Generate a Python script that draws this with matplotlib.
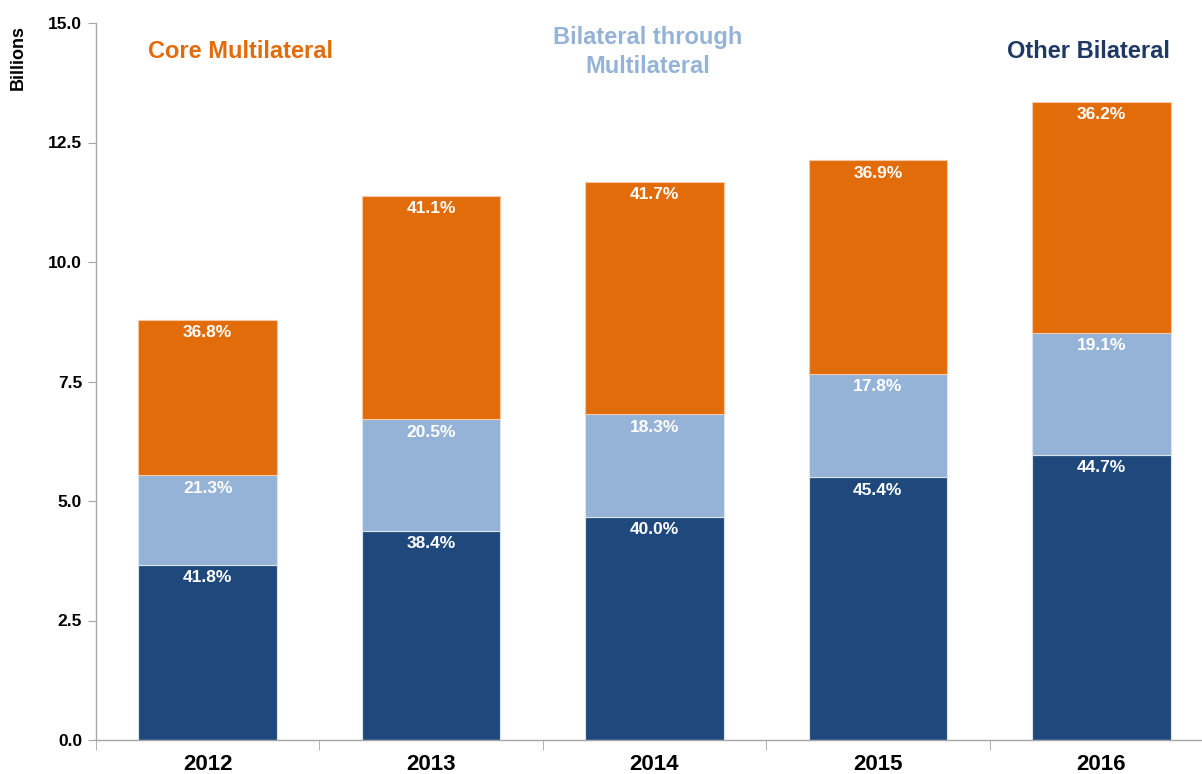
import matplotlib
matplotlib.use("Agg")
import matplotlib.pyplot as plt
import numpy as np

years = ["2012", "2013", "2014", "2015", "2016"]
other_bilateral = [3.67, 4.38, 4.67, 5.50, 5.97]
bilateral_through = [1.87, 2.33, 2.14, 2.16, 2.55]
core_multilateral = [3.25, 4.68, 4.87, 4.47, 4.83]
other_labels = ["41.8%", "38.4%", "40.0%", "45.4%", "44.7%"]
through_labels = ["21.3%", "20.5%", "18.3%", "17.8%", "19.1%"]
core_labels = ["36.8%", "41.1%", "41.7%", "36.9%", "36.2%"]
yticks = [0.0, 2.5, 5.0, 7.5, 10.0, 12.5, 15.0]

plt.rcParams['font.family'] = ['Liberation Sans', 'DejaVu Sans']
plt.rcParams['font.weight'] = 'bold'

c_dark = "#1F497D"
c_light = "#95B3D7"
c_orange = "#E36C0A"
c_axis = "#A6A6A6"

fig = plt.figure(figsize=(12.02, 7.74), dpi=100)
ax = fig.add_axes([96/1202, 1-740/774, (1213-96)/1202, (740-23)/774])

x = np.arange(len(years))
w = 0.62
b1 = np.array(other_bilateral)
b2 = b1 + np.array(bilateral_through)
b3 = b2 + np.array(core_multilateral)

ax.bar(x, other_bilateral, w, color=c_dark, edgecolor="#DCE3EC", linewidth=0.8)
ax.bar(x, bilateral_through, w, bottom=b1, color=c_light, edgecolor="#DCE3EC", linewidth=0.8)
ax.bar(x, core_multilateral, w, bottom=b2, color=c_orange, edgecolor="#F5C9A8", linewidth=0.8)

for tops, labs in ((b1, other_labels), (b2, through_labels), (b3, core_labels)):
    for xi, t, lab in zip(x, tops, labs):
        ax.annotate(lab, (xi, t), xytext=(0, -4), textcoords="offset points",
                    ha="center", va="top", color="white", fontsize=12.5, fontweight="bold")

ax.set_xlim(-0.5, len(years) - 0.5)
ax.set_ylim(0, 15)
ax.set_yticks(yticks)
ax.set_yticklabels([f"{v:.1f}" for v in yticks], fontsize=12.5, fontweight="bold")
ax.set_xticks(x)
ax.set_xticklabels(years, fontsize=16, fontweight="bold")
ax.set_xticks(np.arange(-0.5, len(years), 1.0), minor=True)
ax.tick_params(axis="x", which="major", length=0, pad=10)
ax.tick_params(axis="x", which="minor", length=7, color=c_axis, direction="out")
ax.tick_params(axis="y", length=6, color=c_axis, pad=4)
for s in ("top", "right"):
    ax.spines[s].set_visible(False)
for s in ("left", "bottom"):
    ax.spines[s].set_color(c_axis)
    ax.spines[s].set_linewidth(1.0)

fig.text(18/1202, 1-57/774, "Billions", rotation=90, ha="center", va="center",
         fontsize=13, fontweight="bold")

fig.text(240/1202, 1-51/774, "Core Multilateral", ha="center", va="center",
         fontsize=17, fontweight="bold", color=c_orange)
fig.text(648/1202, 1-52/774, "Bilateral through\nMultilateral", ha="center", va="center",
         fontsize=17, fontweight="bold", color=c_light, linespacing=1.32)
fig.text(1088/1202, 1-52/774, "Other Bilateral", ha="center", va="center",
         fontsize=17, fontweight="bold", color="#1F3864")

fig.savefig("out.png", dpi=100)
